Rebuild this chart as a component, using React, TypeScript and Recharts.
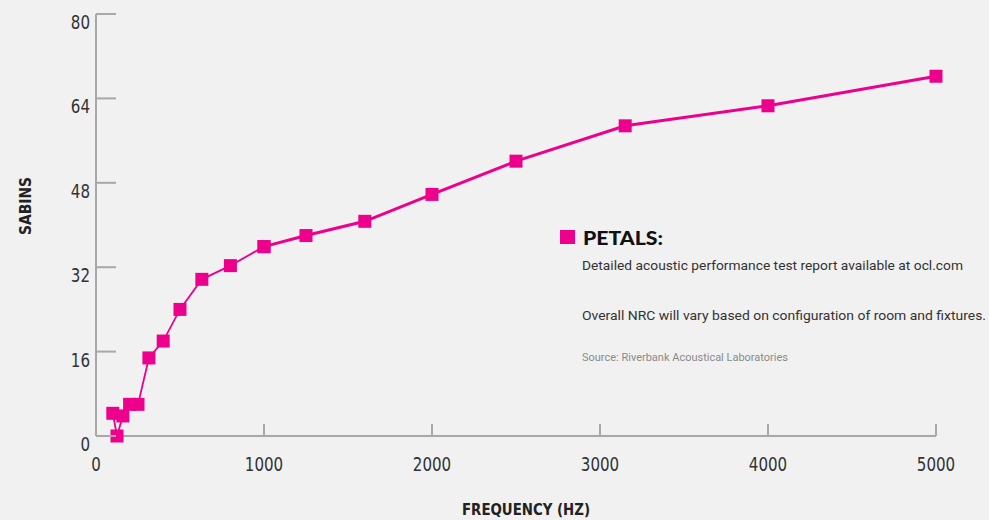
import React from 'react';
import { LineChart, Line, XAxis, YAxis, Label } from 'recharts';

const FREQUENCIES = [100, 125, 160, 200, 250, 315, 400, 500, 630, 800, 1000, 1250, 1600, 2000, 2500, 3150, 4000, 5000];
const SABINS = [4.3, 0, 3.8, 6.0, 6.0, 14.8, 18.0, 24.0, 29.7, 32.3, 35.9, 38.0, 40.7, 45.8, 52.1, 58.8, 62.6, 68.2];
const X_TICKS = [0, 1000, 2000, 3000, 4000, 5000];
const Y_TICKS = [0, 16, 32, 48, 64, 80];
const SPLIT_FREQ = 1000;
const LEGEND_TITLE = 'PETALS:';
const NOTE_1 = 'Detailed acoustic performance test report available at ocl.com';
const NOTE_2 = 'Overall NRC will vary based on configuration of room and fixtures.';
const SOURCE = 'Source: Riverbank Acoustical Laboratories';
const X_TITLE = 'FREQUENCY (HZ)';
const Y_TITLE = 'SABINS';

const PINK = '#ec008c';
const AXIS = '#a8a8a8';
const TEXT = '#333333';
const NARROW = '"DejaVu Sans Condensed", "DejaVu Sans", sans-serif';
const NOTE_FONT = 'Roboto, "DejaVu Sans Condensed", sans-serif';

const data = FREQUENCIES.map((f, i) => ({
  freq: f,
  low: f <= SPLIT_FREQ ? SABINS[i] : null,
  high: f >= SPLIT_FREQ ? SABINS[i] : null,
}));

const SquareDot = (props: any) => {
  const { cx, cy, value } = props;
  if (value === null || value === undefined || cx == null || cy == null) return <g />;
  return <rect x={cx - 6.5} y={cy - 6.5} width={13} height={13} fill={PINK} />;
};

const tickLen = (v: any) => String(v).length * 9.6;

const YTick = (props: any) => {
  const { x, y, payload } = props;
  return (
    <g>
      <line x1={x + 6} x2={x + 26} y1={y} y2={y} stroke={AXIS} strokeWidth={2} />
      <text x={x} y={y + 15} textAnchor="end" fill={TEXT} fontSize={20} fontFamily={NARROW} fontWeight={300}
        textLength={tickLen(payload.value)} lengthAdjust="spacingAndGlyphs">
        {payload.value}
      </text>
    </g>
  );
};

const XTick = (props: any) => {
  const { x, y, payload } = props;
  return (
    <g>
      <line x1={x} x2={x} y1={y - 12} y2={y} stroke={AXIS} strokeWidth={2} />
      <text x={x} y={y + 35} textAnchor="middle" fill={TEXT} fontSize={20} fontFamily={NARROW} fontWeight={300}
        textLength={tickLen(payload.value)} lengthAdjust="spacingAndGlyphs">
        {payload.value}
      </text>
    </g>
  );
};

export default function App() {
  return (
    <div style={{ position: 'absolute', left: 0, top: 0, width: 989, height: 520, background: '#f1f1f1', fontFamily: NARROW }}>
      <LineChart width={989} height={520} data={data} margin={{ top: 14, right: 53, bottom: 0, left: 0 }}>
        <XAxis
          dataKey="freq"
          type="number"
          domain={[0, 5000]}
          ticks={X_TICKS}
          tickLine={false}
          tickSize={0}
          tickMargin={0}
          height={84}
          axisLine={{ stroke: AXIS, strokeWidth: 2 }}
          tick={<XTick />}
          interval={0}
        >
          <Label
            content={() => (
              <text x={526} y={515} textAnchor="middle" fill="#222" fontSize={15} fontWeight="bold" fontFamily={NARROW}
                textLength={128} lengthAdjust="spacingAndGlyphs">
                {X_TITLE}
              </text>
            )}
          />
        </XAxis>
        <YAxis
          type="number"
          domain={[0, 80]}
          ticks={Y_TICKS}
          width={96}
          tickLine={false}
          tickSize={0}
          tickMargin={6}
          axisLine={{ stroke: AXIS, strokeWidth: 2 }}
          tick={<YTick />}
          interval={0}
        >
          <Label
            content={() => (
              <text x={31} y={206} transform="rotate(-90 31 206)" textAnchor="middle" fill="#222" fontSize={15} fontWeight="bold" fontFamily={NARROW}
                textLength={58} lengthAdjust="spacingAndGlyphs">
                {Y_TITLE}
              </text>
            )}
          />
        </YAxis>
        <Line type="linear" dataKey="low" stroke={PINK} strokeWidth={1.8} dot={<SquareDot />} activeDot={false} isAnimationActive={false} connectNulls={false} />
        <Line type="linear" dataKey="high" stroke={PINK} strokeWidth={3} dot={<SquareDot />} activeDot={false} isAnimationActive={false} connectNulls={false} />
      </LineChart>
      <svg width={989} height={520} style={{ position: 'absolute', left: 0, top: 0, pointerEvents: 'none' }}>
        <rect x={560} y={230} width={15} height={14} fill={PINK} />
        <text x={583} y={245} fontFamily="Lato, 'DejaVu Sans', sans-serif" fontWeight={900} fontSize={18} fill="#111"
          textLength={80} lengthAdjust="spacingAndGlyphs">
          {LEGEND_TITLE}
        </text>
        <text x={582} y={270} fontFamily={NOTE_FONT} fontSize={13.5} fill={TEXT} textLength={381} lengthAdjust="spacingAndGlyphs">
          {NOTE_1}
        </text>
        <text x={582} y={320} fontFamily={NOTE_FONT} fontSize={13.5} fill={TEXT} textLength={404} lengthAdjust="spacingAndGlyphs">
          {NOTE_2}
        </text>
        <text x={582} y={361} fontFamily={NOTE_FONT} fontSize={11} fill="#8a8a8a" textLength={206} lengthAdjust="spacingAndGlyphs">
          {SOURCE}
        </text>
      </svg>
    </div>
  );
}
